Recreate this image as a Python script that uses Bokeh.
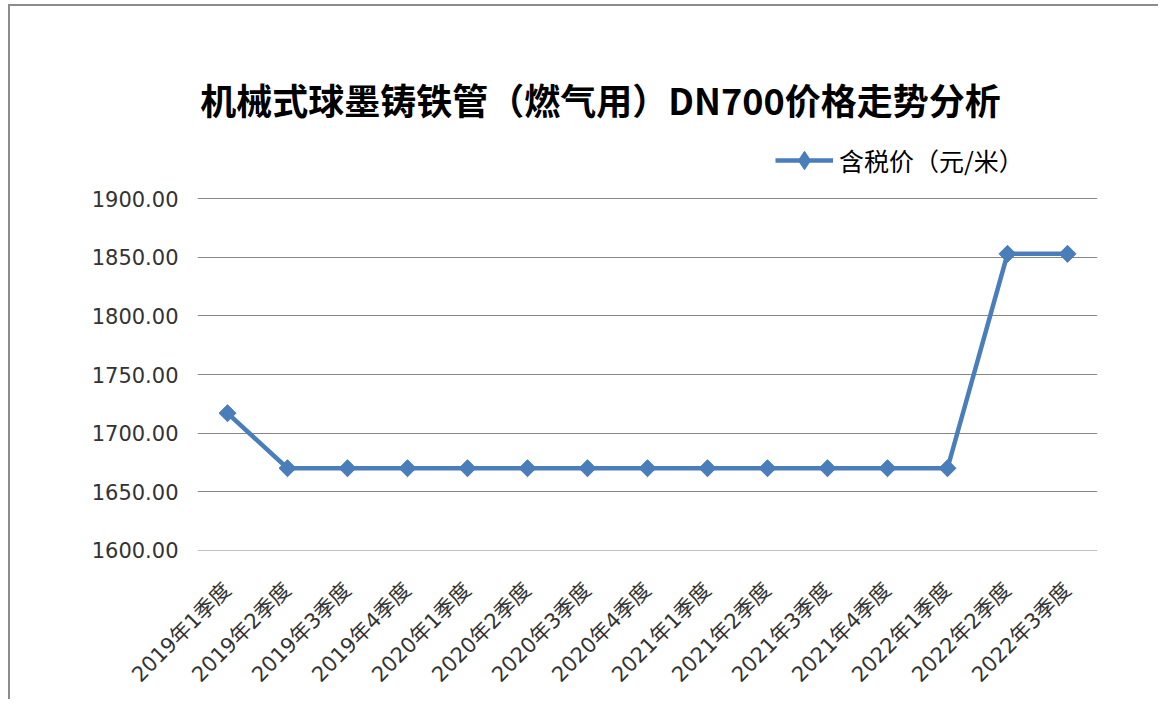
from bokeh.plotting import figure
from bokeh.models import FactorRange, Range1d, FixedTicker, NumeralTickFormatter, Label, Legend, LegendItem
from bokeh.embed import file_html
from bokeh.resources import INLINE
import math

categories = ["2019年1季度", "2019年2季度", "2019年3季度", "2019年4季度",
              "2020年1季度", "2020年2季度", "2020年3季度", "2020年4季度",
              "2021年1季度", "2021年2季度", "2021年3季度", "2021年4季度",
              "2022年1季度", "2022年2季度", "2022年3季度"]
prices = [1717, 1670, 1670, 1670, 1670, 1670, 1670, 1670, 1670, 1670, 1670, 1670, 1670, 1853, 1853]
y_ticks = [1600, 1650, 1700, 1750, 1800, 1850, 1900]
title_text = "机械式球墨铸铁管（燃气用）DN700价格走势分析"
series_name = "含税价（元/米）"

CJK = "Noto Sans CJK SC"
NUM = "DejaVu Sans, Noto Sans CJK SC"
BLUE = "#4A7EBB"
GRID = "#868686"
TXT = "#333333"

# frame extends above the 1900 gridline so that title and legend sit inside it
p = figure(width=1150, height=695, output_backend="svg", toolbar_location=None,
           x_range=FactorRange(*categories, range_padding=0),
           y_range=Range1d(1599.8, 2018),
           min_border_left=187, min_border_right=63, min_border_top=54, min_border_bottom=151)
p.outline_line_color = None
p.background_fill_color = "white"
p.border_fill_color = "white"
p.styles = {"margin-left": "8px", "margin-top": "4px",
            "border-top": "2px solid #8c8c8c", "border-left": "2px solid #8c8c8c"}

line = p.line(categories, prices, line_color=BLUE, line_width=4.5)
# diamond markers (used for the legend swatch), covered by the rotated squares
dia = p.scatter(categories, prices, marker="diamond", size=16, fill_color=BLUE, line_color=BLUE)
pts = p.scatter(categories, prices, marker="square", angle=math.pi / 4, size=12,
                fill_color=BLUE, line_color=BLUE)

p.xgrid.grid_line_color = None
p.ygrid.grid_line_color = GRID
p.ygrid.grid_line_width = 1.2
p.ygrid.ticker = FixedTicker(ticks=y_ticks)

p.yaxis.ticker = FixedTicker(ticks=y_ticks)
p.yaxis.formatter = NumeralTickFormatter(format="0.00")
p.yaxis.axis_line_color = None
p.yaxis.major_tick_line_color = None
p.yaxis.minor_tick_line_color = None
p.yaxis.major_label_standoff = 13
p.yaxis.major_label_text_font = NUM
p.yaxis.major_label_text_font_size = "21px"
p.yaxis.major_label_text_color = TXT

p.xaxis.axis_line_color = None
p.xaxis.major_tick_line_color = None
p.xaxis.minor_tick_line_color = None
p.xaxis.major_label_orientation = math.pi / 4
p.xaxis.major_label_standoff = 30
p.xaxis.major_label_text_font = NUM
p.xaxis.major_label_text_font_size = "21px"
p.xaxis.major_label_text_color = TXT

title = Label(x=403, y=452, x_units="screen", y_units="screen", text=title_text,
              text_align="center", text_baseline="middle", text_font=CJK,
              text_font_size="36px", text_font_style="bold", text_color="black")
p.add_layout(title)

legend = Legend(items=[LegendItem(label=series_name, renderers=[line, dia])],
                location=(578, 367), orientation="horizontal",
                glyph_width=58, glyph_height=46, label_standoff=6,
                padding=0, margin=0, border_line_color=None, background_fill_alpha=0,
                label_text_font=CJK, label_text_font_size="25px", label_text_color="black")
p.add_layout(legend, "center")

open("out.html", "w").write(file_html(p, INLINE))
